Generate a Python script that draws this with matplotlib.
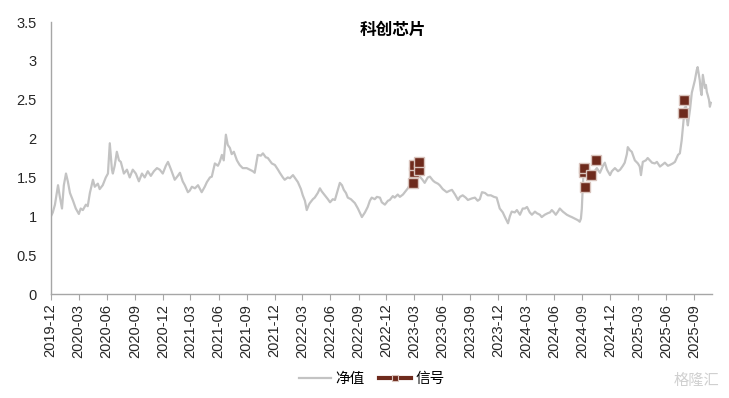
import pandas as pd
import matplotlib
matplotlib.use("Agg")
import matplotlib.pyplot as plt
import matplotlib.dates as mdates
from matplotlib.lines import Line2D

plt.rcParams['font.family'] = ['Liberation Sans', 'Noto Sans CJK SC', 'DejaVu Sans']

# 净值
nav_dates = [
    '2019-12-02', '2019-12-08', '2019-12-15', '2019-12-25', '2019-12-31', '2020-01-07', '2020-01-13',
    '2020-01-20', '2020-01-26', '2020-02-02', '2020-02-12', '2020-02-21', '2020-03-02', '2020-03-08',
    '2020-03-15', '2020-03-25', '2020-03-31', '2020-04-07', '2020-04-17', '2020-04-23', '2020-05-03',
    '2020-05-09', '2020-05-19', '2020-05-29', '2020-06-05', '2020-06-11', '2020-06-18', '2020-06-21',
    '2020-06-27', '2020-07-04', '2020-07-11', '2020-07-17', '2020-07-27', '2020-08-06', '2020-08-15',
    '2020-08-25', '2020-09-04', '2020-09-14', '2020-09-24', '2020-10-03', '2020-10-13', '2020-10-23',
    '2020-11-02', '2020-11-12', '2020-11-21', '2020-12-01', '2020-12-11', '2020-12-18', '2020-12-28',
    '2021-01-09', '2021-01-19', '2021-01-26', '2021-02-04', '2021-02-11', '2021-02-21', '2021-02-27',
    '2021-03-06', '2021-03-16', '2021-03-26', '2021-04-07', '2021-04-17', '2021-04-24', '2021-05-04',
    '2021-05-10', '2021-05-20', '2021-05-30', '2021-06-05', '2021-06-12', '2021-06-18', '2021-06-25',
    '2021-07-01', '2021-07-08', '2021-07-14', '2021-07-21', '2021-07-31', '2021-08-09', '2021-08-19',
    '2021-09-01', '2021-09-11', '2021-09-21', '2021-09-27', '2021-10-07', '2021-10-17', '2021-10-24',
    '2021-11-02', '2021-11-09', '2021-11-22', '2021-12-02', '2021-12-12', '2021-12-18', '2021-12-28',
    '2022-01-03', '2022-01-13', '2022-01-20', '2022-01-30', '2022-02-08', '2022-02-15', '2022-02-25',
    '2022-03-03', '2022-03-10', '2022-03-16', '2022-03-23', '2022-03-26', '2022-04-05', '2022-04-11',
    '2022-04-21', '2022-04-28', '2022-05-04', '2022-05-14', '2022-05-24', '2022-05-31', '2022-06-09',
    '2022-06-16', '2022-06-26', '2022-07-02', '2022-07-09', '2022-07-15', '2022-07-22', '2022-07-28',
    '2022-08-07', '2022-08-20', '2022-08-30', '2022-09-12', '2022-09-22', '2022-10-01', '2022-10-08',
    '2022-10-14', '2022-10-24', '2022-10-31', '2022-11-10', '2022-11-16', '2022-11-26', '2022-12-06',
    '2022-12-12', '2022-12-22', '2022-12-28', '2023-01-07', '2023-01-14', '2023-01-24', '2023-01-30',
    '2023-02-09', '2023-02-15', '2023-02-22', '2023-02-25', '2023-03-01', '2023-03-04', '2023-03-10',
    '2023-03-20', '2023-03-27', '2023-04-05', '2023-04-15', '2023-04-22', '2023-05-02', '2023-05-08',
    '2023-05-18', '2023-05-24', '2023-06-03', '2023-06-16', '2023-06-26', '2023-07-03', '2023-07-13',
    '2023-07-23', '2023-07-29', '2023-08-07', '2023-08-17', '2023-08-24', '2023-09-06', '2023-09-16',
    '2023-09-25', '2023-10-02', '2023-10-09', '2023-10-19', '2023-10-28', '2023-11-07', '2023-11-17',
    '2023-11-26', '2023-12-06', '2023-12-16', '2023-12-23', '2024-01-02', '2024-01-08', '2024-01-14',
    '2024-01-24', '2024-01-31', '2024-02-10', '2024-02-19', '2024-02-26', '2024-03-04', '2024-03-13',
    '2024-03-20', '2024-03-30', '2024-04-05', '2024-04-15', '2024-04-21', '2024-05-01', '2024-05-11',
    '2024-05-18', '2024-05-24', '2024-05-31', '2024-06-06', '2024-06-13', '2024-06-19', '2024-06-29',
    '2024-07-12', '2024-07-22', '2024-07-28', '2024-08-07', '2024-08-17', '2024-08-23', '2024-08-27',
    '2024-08-30', '2024-09-02', '2024-09-05', '2024-09-09', '2024-09-15', '2024-09-25', '2024-09-28',
    '2024-10-11', '2024-10-14', '2024-10-18', '2024-10-28', '2024-11-07', '2024-11-13', '2024-11-20',
    '2024-11-30', '2024-12-06', '2024-12-16', '2024-12-26', '2025-01-02', '2025-01-11', '2025-01-17',
    '2025-01-24', '2025-01-27', '2025-02-03', '2025-02-09', '2025-02-19', '2025-03-01', '2025-03-07',
    '2025-03-11', '2025-03-17', '2025-03-27', '2025-04-02', '2025-04-09', '2025-04-16', '2025-04-25',
    '2025-05-02', '2025-05-12', '2025-05-22', '2025-05-28', '2025-06-07', '2025-06-13', '2025-06-23',
    '2025-06-30', '2025-07-10', '2025-07-16', '2025-07-22', '2025-07-29', '2025-08-01', '2025-08-05',
    '2025-08-08', '2025-08-11', '2025-08-18', '2025-08-24', '2025-08-31', '2025-09-03', '2025-09-09',
    '2025-09-12', '2025-09-15', '2025-09-19', '2025-09-22', '2025-09-25', '2025-09-29', '2025-10-02',
    '2025-10-06', '2025-10-09', '2025-10-12', '2025-10-15', '2025-10-19', '2025-10-22', '2025-10-25',
]
nav_values = [
    1.00, 1.05, 1.15, 1.40, 1.25, 1.10, 1.40,
    1.55, 1.45, 1.30, 1.20, 1.10, 1.03, 1.10,
    1.08, 1.15, 1.13, 1.30, 1.47, 1.38, 1.42,
    1.35, 1.40, 1.50, 1.55, 1.94, 1.60, 1.55,
    1.65, 1.83, 1.72, 1.70, 1.55, 1.60, 1.50,
    1.60, 1.55, 1.45, 1.55, 1.50, 1.58, 1.52,
    1.58, 1.62, 1.60, 1.55, 1.65, 1.70, 1.60,
    1.47, 1.52, 1.56, 1.45, 1.40, 1.31, 1.33,
    1.38, 1.36, 1.40, 1.31, 1.38, 1.44, 1.50,
    1.51, 1.68, 1.65, 1.70, 1.79, 1.72, 2.05,
    1.92, 1.88, 1.80, 1.83, 1.72, 1.66, 1.62,
    1.62, 1.60, 1.58, 1.56, 1.79, 1.78, 1.81,
    1.76, 1.75, 1.68, 1.66, 1.60, 1.56, 1.50,
    1.47, 1.50, 1.49, 1.53, 1.48, 1.44, 1.35,
    1.27, 1.20, 1.08, 1.15, 1.17, 1.22, 1.24,
    1.30, 1.36, 1.32, 1.27, 1.22, 1.18, 1.22,
    1.21, 1.35, 1.43, 1.40, 1.34, 1.30, 1.24,
    1.22, 1.17, 1.10, 0.99, 1.05, 1.12, 1.20,
    1.24, 1.22, 1.25, 1.24, 1.18, 1.15, 1.20,
    1.21, 1.26, 1.24, 1.28, 1.25, 1.28, 1.31,
    1.36, 1.40, 1.44, 1.50, 1.60, 1.56, 1.58,
    1.51, 1.48, 1.43, 1.50, 1.51, 1.46, 1.44,
    1.42, 1.40, 1.35, 1.31, 1.33, 1.34, 1.28,
    1.21, 1.25, 1.27, 1.24, 1.21, 1.23, 1.24,
    1.20, 1.22, 1.31, 1.30, 1.27, 1.27, 1.25,
    1.24, 1.10, 1.05, 0.99, 0.91, 1.00, 1.06,
    1.05, 1.08, 1.02, 1.10, 1.10, 1.12, 1.05,
    1.02, 1.06, 1.04, 1.02, 0.99, 1.02, 1.04,
    1.05, 1.08, 1.05, 1.02, 1.06, 1.10, 1.06,
    1.02, 1.00, 0.99, 0.97, 0.95, 0.93, 0.97,
    1.10, 1.38, 1.57, 1.62, 1.50, 1.57, 1.53,
    1.58, 1.60, 1.62, 1.56, 1.65, 1.69, 1.60,
    1.53, 1.58, 1.62, 1.58, 1.60, 1.65, 1.69,
    1.80, 1.89, 1.85, 1.83, 1.72, 1.68, 1.64,
    1.53, 1.70, 1.72, 1.75, 1.72, 1.69, 1.68,
    1.70, 1.64, 1.67, 1.69, 1.65, 1.66, 1.68,
    1.70, 1.79, 1.81, 1.98, 2.28, 2.40, 2.41,
    2.25, 2.17, 2.37, 2.59, 2.70, 2.75, 2.88,
    2.92, 2.85, 2.75, 2.62, 2.56, 2.82, 2.75,
    2.65, 2.69, 2.60, 2.56, 2.50, 2.41, 2.46,
]

# 信号
sig_dates = ['2023-02-25', '2023-03-01', '2023-03-02', '2023-03-16', '2023-03-17',
             '2024-09-05', '2024-09-06', '2024-09-09', '2024-09-28', '2024-10-14',
             '2025-07-26', '2025-07-29']
sig_values = [1.43, 1.57, 1.66, 1.60, 1.70,
              1.57, 1.62, 1.38, 1.53, 1.72,
              2.33, 2.50]

yticks = [0, 0.5, 1, 1.5, 2, 2.5, 3, 3.5]
ytick_labels = ['0', '0.5', '1', '1.5', '2', '2.5', '3', '3.5']

nav_x = pd.to_datetime(nav_dates)
sig_x = pd.to_datetime(sig_dates)

line_gray = '#C3C3C3'
brown = '#6E2A1C'
edge = '#D8C3BC'
axis_gray = '#A6A6A6'

fig = plt.figure(figsize=(7.29, 3.98), dpi=100)
ax = fig.add_axes([0.0695, 0.2613, 0.9068, 0.6834])

ax.plot(nav_x, nav_values, color=line_gray, lw=1.6, zorder=2)
ax.plot(sig_x, sig_values, ls='none', marker='s', markersize=7.5,
        markerfacecolor=brown, markeredgecolor=edge, markeredgewidth=1.0, zorder=3)

ax.set_ylim(0, 3.5)
ax.set_yticks(yticks)
ax.set_yticklabels(ytick_labels)
ax.set_xlim(pd.Timestamp('2019-12-01'), pd.Timestamp('2025-10-28'))
ax.xaxis.set_major_locator(mdates.MonthLocator(bymonth=[3, 6, 9, 12]))
ax.xaxis.set_major_formatter(mdates.DateFormatter('%Y-%m'))

for s in ['top', 'right']:
    ax.spines[s].set_visible(False)
for s in ['left', 'bottom']:
    ax.spines[s].set_color(axis_gray)
    ax.spines[s].set_linewidth(1.0)

ax.tick_params(axis='y', length=0, pad=10, labelsize=10.5, labelcolor='#262626')
ax.tick_params(axis='x', length=4, color=axis_gray, width=0.8, pad=3,
               labelsize=10.5, labelcolor='#262626', labelrotation=90)

fig.text(0.539, 0.925, '科创芯片', ha='center', va='center', fontsize=12,
         fontweight='heavy', family=['Noto Sans CJK SC', 'DejaVu Sans'])

handles = [
    Line2D([], [], color=line_gray, lw=1.6),
    Line2D([], [], color=brown, lw=3, marker='s', markersize=5,
           markerfacecolor=brown, markeredgecolor=edge, markeredgewidth=0.8),
]
fig.legend(handles, ['净值', '信号'], loc='center', bbox_to_anchor=(0.51, 0.048),
           ncol=2, frameon=False, handlelength=2.2,
           handletextpad=0.3, columnspacing=1.0,
           prop={'family': ['Noto Sans CJK SC', 'DejaVu Sans'], 'size': 10.5})

fig.text(0.955, 0.045, '格隆汇', ha='center', va='center', fontsize=11,
         color='#D0D0D0', family=['Noto Sans CJK SC', 'DejaVu Sans'])

fig.savefig('out.png', dpi=100)
